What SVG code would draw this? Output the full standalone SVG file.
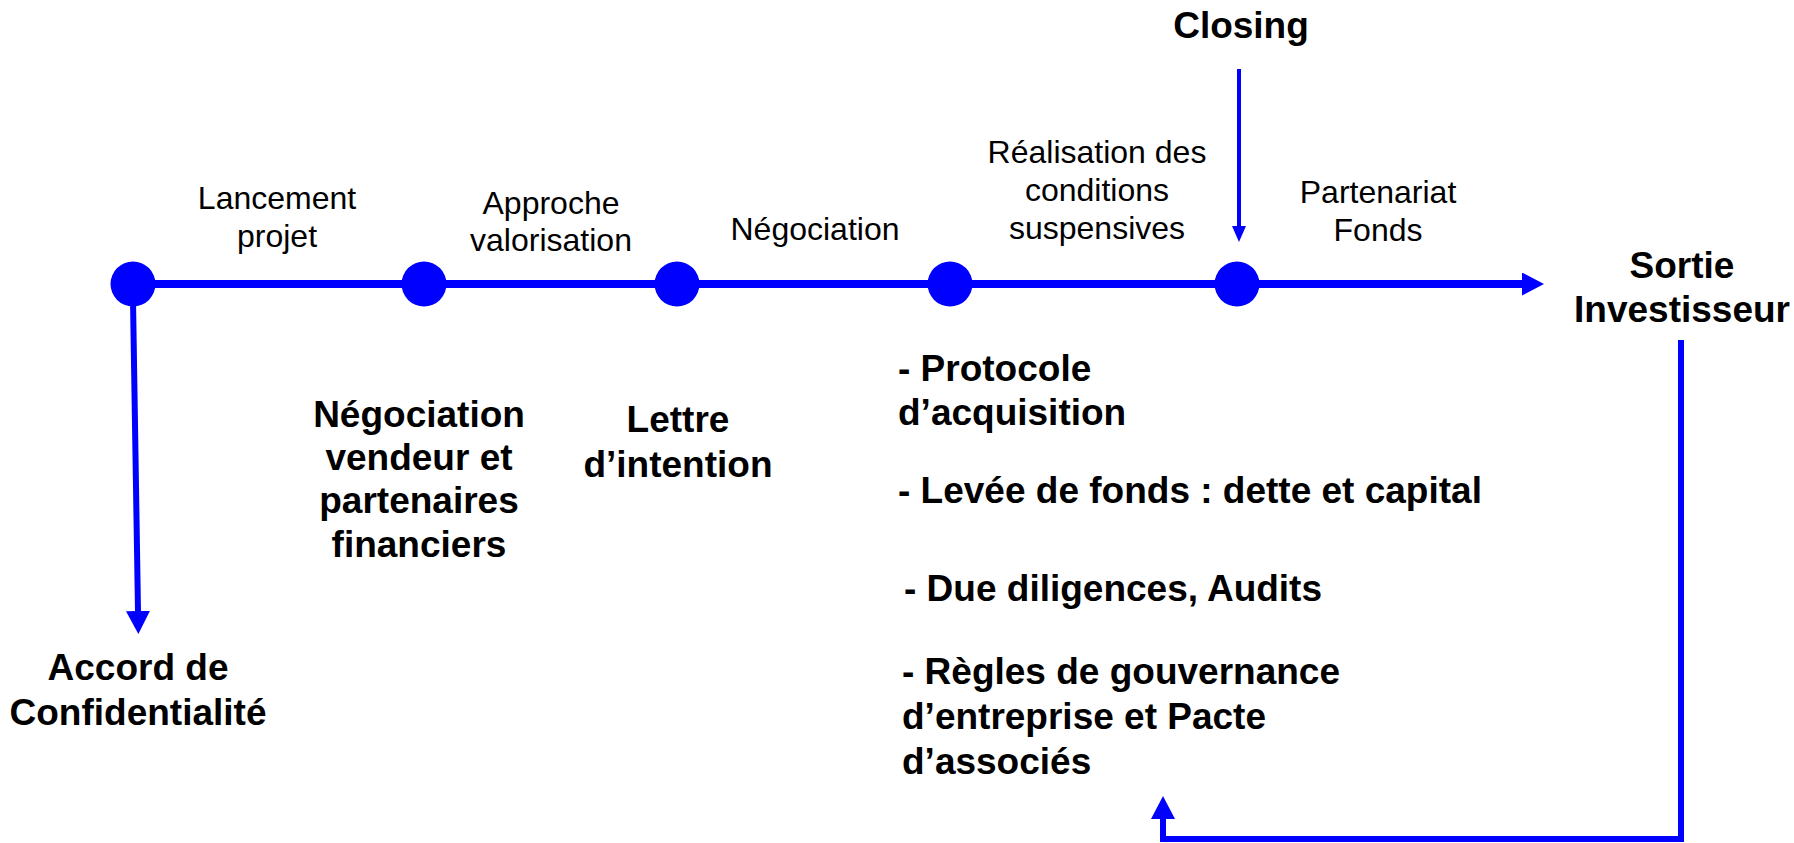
<svg xmlns="http://www.w3.org/2000/svg" width="1794" height="843" viewBox="0 0 1794 843">
  <defs>
    <style>
      .lbl { font-family: "Liberation Sans", Arial, sans-serif; font-size: 32px; fill: #000; text-anchor: middle; }
      .bold { font-family: "Liberation Sans", Arial, sans-serif; font-size: 37px; font-weight: bold; fill: #000; }
      .mid { text-anchor: middle; }
      .dot { fill: #0000FF; }
      .wire { stroke: #0000FF; fill: none; }
    </style>
    <!-- arrowheads start at the line's end point and extend forward -->
    <marker id="headBig" markerUnits="userSpaceOnUse" markerWidth="22" markerHeight="23" refX="0" refY="11.5" orient="auto">
      <path d="M0,0 L22,11.5 L0,23 Z" fill="#0000FF"/>
    </marker>
    <marker id="headMed" markerUnits="userSpaceOnUse" markerWidth="23" markerHeight="24" refX="0" refY="12" orient="auto">
      <path d="M0,0 L23,12 L0,24 Z" fill="#0000FF"/>
    </marker>
    <marker id="headSmall" markerUnits="userSpaceOnUse" markerWidth="16" markerHeight="14" refX="0" refY="7" orient="auto">
      <path d="M0,0 L16,7 L0,14 Z" fill="#0000FF"/>
    </marker>
  </defs>

  <rect width="1794" height="843" fill="#FFFFFF"/>

  <!-- connectors -->
  <g id="connectors">
    <line class="wire" x1="133" y1="284" x2="1522" y2="284" stroke-width="8" marker-end="url(#headBig)"/>
    <line class="wire" x1="133" y1="300" x2="138" y2="611" stroke-width="6" marker-end="url(#headMed)"/>
    <line class="wire" x1="1239" y1="69" x2="1239" y2="226" stroke-width="4" marker-end="url(#headSmall)"/>
    <polyline class="wire" points="1681,340 1681,839 1163,839 1163,819" stroke-width="6" marker-end="url(#headMed)"/>
  </g>

  <!-- milestones on the timeline -->
  <g id="dot-start"><circle class="dot" cx="133" cy="284" r="22.5"/></g>
  <g id="dot-2"><circle class="dot" cx="424" cy="284" r="22.5"/></g>
  <g id="dot-3"><circle class="dot" cx="677" cy="284" r="22.5"/></g>
  <g id="dot-4"><circle class="dot" cx="950" cy="284" r="22.5"/></g>
  <g id="dot-closing"><circle class="dot" cx="1237" cy="284" r="22.5"/></g>

  <!-- phase labels above the line -->
  <g id="phase-lancement">
    <text class="lbl" x="277" y="209">Lancement</text>
    <text class="lbl" x="277" y="247">projet</text>
  </g>
  <g id="phase-approche">
    <text class="lbl" x="551" y="214">Approche</text>
    <text class="lbl" x="551" y="251">valorisation</text>
  </g>
  <g id="phase-negociation">
    <text class="lbl" x="815" y="240">Négociation</text>
  </g>
  <g id="phase-realisation">
    <text class="lbl" x="1097" y="163">Réalisation des</text>
    <text class="lbl" x="1097" y="201">conditions</text>
    <text class="lbl" x="1097" y="239">suspensives</text>
  </g>
  <g id="phase-partenariat">
    <text class="lbl" x="1378" y="203">Partenariat</text>
    <text class="lbl" x="1378" y="241">Fonds</text>
  </g>

  <!-- milestone captions -->
  <g id="closing">
    <text class="bold mid" x="1241" y="38">Closing</text>
  </g>
  <g id="sortie">
    <text class="bold mid" x="1682" y="278">Sortie</text>
    <text class="bold mid" x="1682" y="322">Investisseur</text>
  </g>
  <g id="accord">
    <text class="bold mid" x="138" y="680">Accord de</text>
    <text class="bold mid" x="138" y="725">Confidentialité</text>
  </g>
  <g id="negociation-vendeur">
    <text class="bold mid" x="419" y="427">Négociation</text>
    <text class="bold mid" x="419" y="470">vendeur et</text>
    <text class="bold mid" x="419" y="513">partenaires</text>
    <text class="bold mid" x="419" y="557">financiers</text>
  </g>
  <g id="lettre">
    <text class="bold mid" x="678" y="432">Lettre</text>
    <text class="bold mid" x="678" y="477">d’intention</text>
  </g>
  <g id="closing-items">
    <text class="bold" x="898" y="381">- Protocole</text>
    <text class="bold" x="898" y="425">d’acquisition</text>
    <text class="bold" x="898" y="503">- Levée de fonds : dette et capital</text>
    <text class="bold" x="904" y="601">- Due diligences, Audits</text>
    <text class="bold" x="902" y="684">- Règles de gouvernance</text>
    <text class="bold" x="902" y="729">d’entreprise et Pacte</text>
    <text class="bold" x="902" y="774">d’associés</text>
  </g>
</svg>
